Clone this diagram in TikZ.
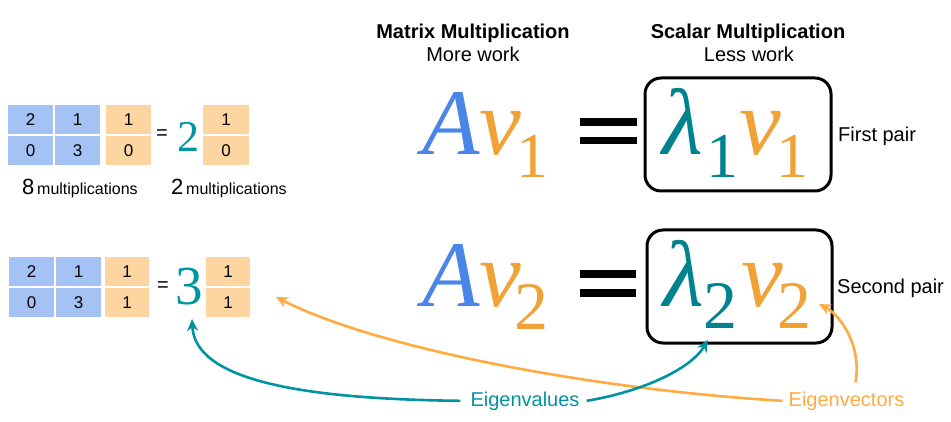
\documentclass[tikz,border=0pt]{standalone}
\usepackage{fontspec}
\setmainfont{Liberation Sans}
\newfontfamily\serifm{Liberation Serif}
\usetikzlibrary{arrows.meta}
\definecolor{cellblue}{RGB}{164,194,244}
\definecolor{cellorange}{RGB}{253,213,160}
\definecolor{mathblue}{RGB}{74,134,232}
\definecolor{mathorange}{RGB}{241,162,55}
\definecolor{mathteal}{RGB}{0,131,143}
\definecolor{lteal}{RGB}{0,148,162}
\definecolor{lorange}{RGB}{255,171,64}
\tikzset{
  bcell/.style={fill=cellblue, inner sep=0pt, minimum width=45pt, minimum height=29pt, font=\fontsize{17}{17}\selectfont},
  ocell/.style={fill=cellorange, inner sep=0pt, minimum width=45pt, minimum height=29pt, font=\fontsize{17}{17}\selectfont},
  txt/.style={inner sep=0pt, anchor=base west},
  ctxt/.style={inner sep=0pt, anchor=base},
  bigm/.style={inner sep=0pt, anchor=base west, font=\serifm\itshape\fontsize{94}{94}\selectfont},
  subm/.style={inner sep=0pt, anchor=base west, font=\serifm\fontsize{64}{64}\selectfont},
  submb/.style={inner sep=0pt, anchor=base west, font=\serifm\fontsize{68}{68}\selectfont},
  pairbox/.style={draw=black, line width=3pt, rounded corners=16pt, inner sep=0pt},
  eqbar/.style={fill=black, draw=none},
  tealarrow/.style={draw=lteal, line width=2.6pt, -{Stealth[length=12pt,width=11pt]}},
  orangearrow/.style={draw=lorange, line width=2.6pt, -{Stealth[length=12pt,width=11pt]}},
  lab/.style={inner sep=0pt, anchor=base, font=\fontsize{20}{20}\selectfont}
}
\begin{document}
\begin{tikzpicture}[x=1pt,y=-1pt]
\useasboundingbox (0,0) rectangle (951,422);
\fill[white] (0,0) rectangle (951,422);

% headings
\node[ctxt, font=\bfseries\fontsize{20}{20}\selectfont] (h1) at (473,39) {Matrix Multiplication};
\node[ctxt, font=\fontsize{20}{20}\selectfont] (h1b) at (473,62) {More work};
\node[ctxt, font=\bfseries\fontsize{20}{20}\selectfont] (h2) at (748,39) {Scalar Multiplication};
\node[ctxt, font=\fontsize{20}{20}\selectfont] (h2b) at (749,62) {Less work};

% top left equation
\node[bcell] (a11) at (30.5,119.5) {2};
\node[bcell] (a12) at (77.5,119.5) {1};
\node[bcell] (a21) at (30.5,150.5) {0};
\node[bcell] (a22) at (77.5,150.5) {3};
\node[ocell] (x1) at (128.5,119.5) {1};
\node[ocell] (x2) at (128.5,150.5) {0};
\node[inner sep=0pt, font=\fontsize{20}{20}\selectfont] (eqa) at (162,135) {=};
\node[ctxt, text=lteal, font=\serifm\fontsize{44}{44}\selectfont] (sc2) at (188,152) {2};
\node[ocell, minimum width=46pt] (y1) at (226,119.5) {1};
\node[ocell, minimum width=46pt] (y2) at (226,150.5) {0};
\node[txt] (m8) at (22,195) {{\fontsize{22}{22}\selectfont 8} {\fontsize{16}{16}\selectfont multiplications}};
\node[txt] (m2) at (171,195) {{\fontsize{22}{22}\selectfont 2} {\fontsize{16}{16}\selectfont multiplications}};

% bottom left equation
\node[bcell] (b11) at (31.5,271.5) {2};
\node[bcell] (b12) at (78.5,271.5) {1};
\node[bcell] (b21) at (31.5,302.5) {0};
\node[bcell] (b22) at (78.5,302.5) {3};
\node[ocell, minimum width=44pt] (u1) at (127,271.5) {1};
\node[ocell, minimum width=44pt] (u2) at (127,302.5) {1};
\node[inner sep=0pt, font=\fontsize{20}{20}\selectfont] (eqb) at (163,287) {=};
\node[ctxt, text=lteal, font=\serifm\fontsize{55}{55}\selectfont] (sc3) at (189,305) {3};
\node[ocell, minimum width=44pt] (w1) at (228,271.5) {1};
\node[ocell, minimum width=44pt] (w2) at (228,302.5) {1};

% first pair
\node[bigm, text=mathblue] (A1) at (422,155) {A};
\node[bigm, text=mathorange] (v1) at (479.5,155) {v};
\node[subm, text=mathorange] (v1s) at (516,178) {1};
\fill[eqbar] (580,118) rectangle (637,126);
\fill[eqbar] (580,137) rectangle (637,144);
\node[pairbox, minimum width=186pt, minimum height=113pt] (box1) at (738,134.5) {};
\node[bigm, text=mathteal] (l1) at (662,155) {λ};
\node[subm, text=mathteal] (l1s) at (706,178) {1};
\node[bigm, text=mathorange] (bv1) at (739,155) {v};
\node[subm, text=mathorange] (bv1s) at (776,178) {1};
\node[txt, font=\fontsize{20}{20}\selectfont] (fp) at (838,142) {First pair};

% second pair
\node[bigm, text=mathblue] (A2) at (422,306) {A};
\node[bigm, text=mathorange] (v2) at (479.5,306) {v};
\node[submb, text=mathorange] (v2s) at (514,329) {2};
\fill[eqbar] (580,270) rectangle (636,278);
\fill[eqbar] (580,289) rectangle (636,297);
\node[pairbox, minimum width=185pt, minimum height=113pt] (box2) at (739.5,286.5) {};
\node[bigm, text=mathteal] (l2) at (663,306) {λ};
\node[submb, text=mathteal] (l2s) at (703,328) {2};
\node[bigm, text=mathorange] (bv2) at (741,306) {v};
\node[submb, text=mathorange] (bv2s) at (777,328) {2};
\node[txt, font=\fontsize{20}{20}\selectfont] (sp) at (837,294) {Second pair};

% labels
\node[lab, text=lteal] (evl) at (525,406) {Eigenvalues};
\node[lab, text=lorange] (evr) at (846.5,406) {Eigenvectors};

% arrow targets
\coordinate (t3) at (192,319);
\coordinate (tl2) at (708,340);
\coordinate (tv1) at (276,297);
\coordinate (tv2) at (819,304);

% arrows
\draw[orangearrow] ([xshift=-6pt]evr.west) .. controls (600,390) and (380,350) .. (tv1);
\draw[orangearrow] ([xshift=9pt,yshift=9pt]evr.north) .. controls (862,345) and (840,315) .. (tv2);
\draw[tealarrow] ([xshift=-10pt]evl.west) .. controls (300,399) and (195,380) .. (t3);
\draw[tealarrow] ([xshift=7pt]evl.east) .. controls (640,392) and (690,370) .. (tl2);
\end{tikzpicture}
\end{document}
